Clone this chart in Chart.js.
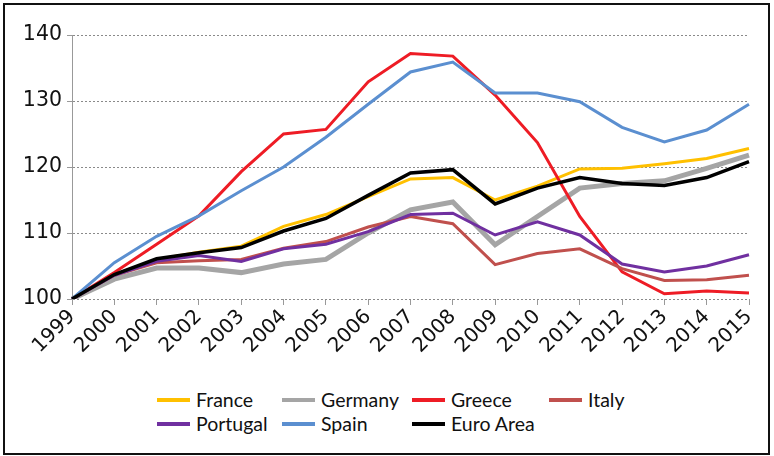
<!DOCTYPE html>
<html>
<head>
<meta charset="utf-8">
<script src="https://cdn.jsdelivr.net/npm/chart.js@4.4.1/dist/chart.umd.min.js"></script>
<style>
  html, body { margin: 0; padding: 0; background: #fff; }
  body { width: 774px; height: 456px; position: relative; overflow: hidden; }
  #frame { position: absolute; left: 3px; top: 3px; width: 767px; height: 452px; border: 2.5px solid #111; box-sizing: border-box; }
  #wrap { position: absolute; left: 0; top: 0; width: 774px; height: 380px; }
  #legend { position: absolute; left: 0; top: 0; font-family: Lato, "Open Sans", sans-serif; font-size: 19.5px; color: #111; }
  .item { position: absolute; height: 24px; line-height: 24px; white-space: nowrap; }
  .sw { position: absolute; left: 0; top: 10px; width: 33px; height: 3.5px; }
  .lbl { position: absolute; left: 39px; top: 0; }
</style>
</head>
<body>
<div id="frame"></div>
<div id="wrap"><canvas id="c" width="774" height="380"></canvas></div>
<div id="legend"></div>
<script>
const years = ["1999","2000","2001","2002","2003","2004","2005","2006","2007","2008","2009","2010","2011","2012","2013","2014","2015"];
const yTicks = [100, 110, 120, 130, 140];

const france   = [100, 103.7, 106.0, 107.1, 108.0, 111.0, 112.8, 115.5, 118.2, 118.4, 115.0, 117.1, 119.7, 119.8, 120.5, 121.3, 122.8];
const germany  = [100, 103.0, 104.7, 104.7, 104.0, 105.3, 106.0, 110.0, 113.5, 114.7, 108.2, 112.5, 116.8, 117.5, 117.9, 119.8, 121.8];
const greece   = [100, 104.0, 108.3, 112.6, 119.3, 125.0, 125.7, 132.9, 137.2, 136.8, 130.9, 123.7, 112.5, 104.1, 100.8, 101.2, 100.9];
const italy    = [100, 103.6, 105.5, 105.8, 106.0, 107.7, 108.7, 110.9, 112.5, 111.4, 105.2, 106.9, 107.6, 104.6, 102.8, 102.9, 103.6];
const portugal = [100, 103.6, 105.7, 106.6, 105.7, 107.6, 108.3, 110.2, 112.8, 113.0, 109.7, 111.7, 109.7, 105.3, 104.1, 105.0, 106.7];
const spain    = [100, 105.5, 109.5, 112.6, 116.4, 120.0, 124.5, 129.5, 134.4, 135.9, 131.2, 131.2, 129.9, 126.0, 123.8, 125.6, 129.5];
const euroArea = [100, 103.7, 106.1, 107.0, 107.8, 110.3, 112.2, 115.7, 119.1, 119.6, 114.4, 116.8, 118.4, 117.5, 117.2, 118.4, 120.8];

const seriesNames = ["France", "Germany", "Greece", "Italy", "Portugal", "Spain", "Euro Area"];
const seriesData = [france, germany, greece, italy, portugal, spain, euroArea];
const seriesColors = ["#FFC000", "#A5A5A5", "#EE1C25", "#C0504D", "#7030A0", "#5B8FD0", "#000000"];
const seriesWidths = [3, 5, 3, 3, 3, 3, 3.5];

const datasets = seriesNames.map((n, i) => ({
  label: n,
  data: seriesData[i],
  borderColor: seriesColors[i],
  backgroundColor: seriesColors[i],
  borderWidth: seriesWidths[i],
  pointRadius: 0,
  tension: 0,
  fill: false,
  order: seriesNames.length - i
}));

new Chart(document.getElementById('c'), {
  type: 'line',
  data: { labels: years, datasets },
  options: {
    responsive: false,
    animation: false,
    layout: { padding: { left: 0, right: 25, top: 35, bottom: 0 } },
    plugins: { legend: { display: false }, tooltip: { enabled: false } },
    scales: {
      x: {
        offset: false,
        grid: { drawOnChartArea: false, drawTicks: true, tickLength: 6, color: '#999', lineWidth: 1 },
        border: { display: false },
        ticks: {
          minRotation: 45, maxRotation: 45, autoSkip: false, padding: 0,
          color: '#111', font: { family: 'DejaVu Sans', size: 20 }
        },
        afterFit: s => { s.height = 81; }
      },
      y: {
        min: 100, max: 140,
        afterBuildTicks: s => { s.ticks = yTicks.map(v => ({ value: v })); },
        grid: { color: '#8a8a8a', lineWidth: 1, tickLength: 5, tickColor: '#999', tickBorderDash: [] },
        border: { display: true, color: '#999', width: 1, dash: [2, 2] },
        ticks: { padding: 5, color: '#111', font: { family: 'DejaVu Sans', size: 20.5 } },
        afterFit: s => { s.width = 72; }
      }
    }
  }
});

// HTML legend (4 columns, aligned like the original)
const colX = [157, 282, 412, 549];
const rowY = [388, 412];
const leg = document.getElementById('legend');
seriesNames.forEach((n, i) => {
  const it = document.createElement('div');
  it.className = 'item';
  it.style.left = colX[i % 4] + 'px';
  it.style.top = rowY[Math.floor(i / 4)] + 'px';
  const sw = document.createElement('div');
  sw.className = 'sw';
  sw.style.background = seriesColors[i];
  const lb = document.createElement('span');
  lb.className = 'lbl';
  lb.textContent = n;
  it.appendChild(sw); it.appendChild(lb);
  leg.appendChild(it);
});
</script>
</body>
</html>
